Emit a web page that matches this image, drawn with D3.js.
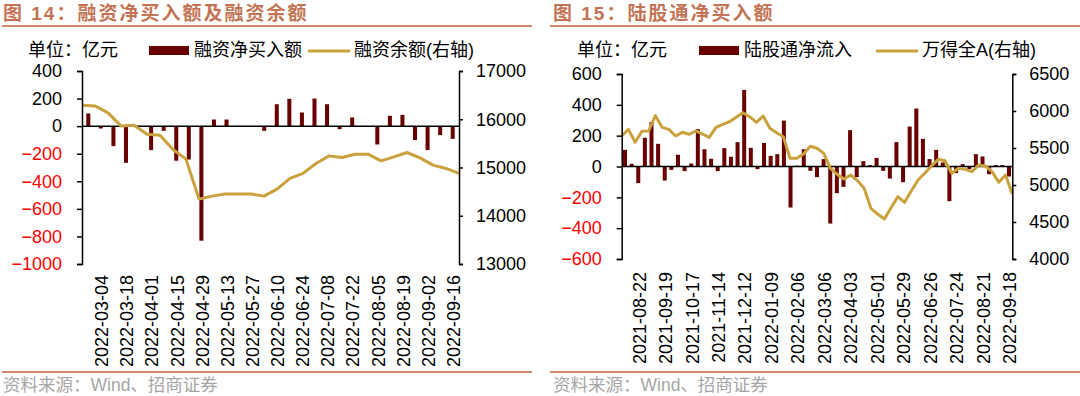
<!DOCTYPE html>
<html>
<head>
<meta charset="utf-8">
<script src="https://cdn.jsdelivr.net/npm/d3@7"></script>
<style>
  body { margin: 0; background: #fff; }
  text { font-family: "Liberation Sans", "Noto Sans CJK SC", sans-serif; }
</style>
</head>
<body>
<div id="chart"></div>
<script>
var svgWidth = 1080;
var svgHeight = 396;

// ---- data: 图14 融资 (weekly, Fridays 2022-02-25 .. 2022-09-16)
var marginDates = d3.timeFriday.range(new Date(2022, 1, 25), new Date(2022, 8, 17)).map(d3.timeFormat("%Y-%m-%d"));
var marginNetBuy = [92, -17, -145, -266, 2, -174, -34, -251, -242, -831, 48, 48, 2, -2, -34,
  159, 198, 99, 200, 159, -22, 63, 2, -133, 75, 82, -101, -174, -65, -92];
var marginBalance = [16290, 16276, 16131, 15862, 15876, 15690, 15670, 15373, 15173, 14345,
  14407, 14449, 14449, 14449, 14407, 14553, 14773, 14877, 15084, 15241,
  15208, 15276, 15276, 15138, 15220, 15311, 15200, 15049, 14980, 14877];
var marginLeftTicks = [400, 200, 0, -200, -400, -600, -800, -1000];
var marginRightTicks = [17000, 16000, 15000, 14000, 13000];

// ---- data: 图15 陆股通 (weekly, Sundays 2021-08-08 .. 2022-09-18)
var northDates = d3.timeSunday.range(new Date(2021, 7, 8), new Date(2022, 8, 19)).map(d3.timeFormat("%Y-%m-%d"));
var northFlow = [108, 17, -108, 186, 288, 147, -91, -22, 76, -30,
  19, 242, 112, 50, -30, 119, 63, 158, 497, 121,
  -17, 153, 69, 80, 298, -266, 5, 112, -28, -69,
  48, -370, -173, -132, 236, -69, 35, 9, 56, -28,
  -78, 158, -102, 259, 376, 179, 48, 108, 26, -225,
  -43, 15, -17, 80, 65, -50, 9, 9, -65];
var windA = [5662, 5752, 5577, 5726, 5730, 5937, 5779, 5752, 5662, 5712,
  5685, 5730, 5689, 5644, 5779, 5820, 5856, 5915, 5977, 5923,
  5847, 5932, 5766, 5707, 5653, 5361, 5361, 5419, 5523, 5496,
  5428, 5226, 5145, 5081, 5135, 5059, 4955, 4685, 4608, 4541,
  4694, 4842, 4766, 4919, 5068, 5158, 5257, 5347, 5329, 5158,
  5226, 5212, 5180, 5270, 5257, 5180, 5036, 5135, 4880];
var northLeftTicks = [600, 400, 200, 0, -200, -400, -600];
var northRightTicks = [6500, 6000, 5500, 5000, 4500, 4000];

var barColor = "#680000";
var lineColor = "#c9a13d";
var titleColor = "#c47455";
var ruleColor = "#d4876a";

var svg = d3.select("#chart")
  .append("svg")
  .attr("width", svgWidth)
  .attr("height", svgHeight);

function drawPanel(cfg) {
  var g = svg.append("g");

  // title + rules
  g.append("text")
    .attr("x", cfg.titleX)
    .attr("y", 20)
    .attr("fill", titleColor)
    .style("font-size", "19px")
    .style("font-weight", "bold")
    .style("letter-spacing", "2px")
    .text(cfg.title);
  g.append("line")
    .attr("x1", cfg.ruleX1).attr("x2", cfg.ruleX2)
    .attr("y1", 26).attr("y2", 26)
    .attr("stroke", ruleColor).attr("stroke-width", 2);
  g.append("line")
    .attr("x1", cfg.ruleX1).attr("x2", cfg.ruleX2)
    .attr("y1", 372).attr("y2", 372)
    .attr("stroke", ruleColor).attr("stroke-width", 2);
  g.append("text")
    .attr("x", cfg.titleX)
    .attr("y", 385)
    .attr("dy", "0.35em")
    .attr("fill", "#a6a6a6")
    .style("font-size", "17.5px")
    .text("资料来源：Wind、招商证券");

  // legend
  var lg = g.append("g").style("font-size", "18px");
  lg.append("text").attr("x", cfg.legend[0]).attr("y", 50).attr("dy", "0.35em").text("单位：亿元");
  lg.append("rect").attr("x", cfg.legend[1]).attr("y", 46).attr("width", 40).attr("height", 9).attr("fill", barColor);
  lg.append("text").attr("x", cfg.legend[1] + 45).attr("y", 50).attr("dy", "0.35em").text(cfg.barName);
  lg.append("line").attr("x1", cfg.legend[2]).attr("x2", cfg.legend[2] + 42)
    .attr("y1", 51).attr("y2", 51).attr("stroke", lineColor).attr("stroke-width", 3);
  lg.append("text").attr("x", cfg.legend[2] + 46).attr("y", 50).attr("dy", "0.35em").text(cfg.lineName);

  // scales
  var xBand = d3.scaleBand().domain(cfg.dates).range([cfg.x0, cfg.x1]);
  var xLine = d3.scalePoint().domain(cfg.dates).range([cfg.x0, cfg.x1]);
  var yLeft = d3.scaleLinear().domain(cfg.leftDomain).range([cfg.y1, cfg.y0]);
  var yRight = d3.scaleLinear().domain(cfg.rightDomain).range([cfg.y1, cfg.y0]);

  // bars
  var barW = 4;
  g.append("g").selectAll("rect")
    .data(cfg.bars)
    .enter()
    .append("rect")
    .attr("x", (d, i) => xBand(cfg.dates[i]) + xBand.bandwidth() / 2 - barW / 2)
    .attr("y", d => yLeft(Math.max(0, d)))
    .attr("width", barW)
    .attr("height", d => Math.abs(yLeft(d) - yLeft(0)))
    .attr("fill", barColor);

  // zero line
  g.append("line")
    .attr("x1", cfg.x0).attr("x2", cfg.x1)
    .attr("y1", yLeft(0)).attr("y2", yLeft(0))
    .attr("stroke", "#000").attr("stroke-width", 1.5);

  // right-axis line series
  var line = d3.line()
    .x((d, i) => xLine(cfg.dates[i]))
    .y(d => yRight(d));
  g.append("path")
    .datum(cfg.line)
    .attr("d", line)
    .attr("fill", "none")
    .attr("stroke", lineColor)
    .attr("stroke-width", 3)
    .attr("stroke-linejoin", "round");

  // axes
  var fmt = d3.format("d");
  var leftAxis = g.append("g")
    .attr("transform", `translate(${cfg.x0},0)`)
    .call(d3.axisLeft(yLeft).tickValues(cfg.leftTicks).tickFormat(fmt)
      .tickSize(5).tickSizeOuter(5).tickPadding(15));
  var rightAxis = g.append("g")
    .attr("transform", `translate(${cfg.x1},0)`)
    .call(d3.axisRight(yRight).tickValues(cfg.rightTicks).tickFormat(fmt)
      .tickSize(4).tickSizeOuter(4).tickPadding(13));
  [leftAxis, rightAxis].forEach(function(ax) {
    ax.selectAll("path, line").attr("stroke", "#000").attr("stroke-width", 1.5);
    ax.selectAll("text")
      .style("font-size", "18px")
      .style("font-family", "Liberation Sans, sans-serif");
  });
  leftAxis.selectAll("text").attr("fill", d => d < 0 ? "#ff0000" : "#000");
  rightAxis.selectAll("text").attr("fill", "#000");

  // rotated date labels
  g.append("g").selectAll("text")
    .data(cfg.dates.filter((d, i) => i % cfg.labelEvery === cfg.labelStart))
    .enter()
    .append("text")
    .attr("transform", d => `translate(${xBand(d) + xBand.bandwidth() / 2 + 1},${cfg.labelY}) rotate(-90)`)
    .attr("dy", "0.35em")
    .attr("text-anchor", "end")
    .style("font-size", "18px")
    .text(d => d);
}

drawPanel({
  title: "图 14：融资净买入额及融资余额",
  titleX: 3, ruleX1: 2, ruleX2: 532,
  legend: [28, 149, 308],
  barName: "融资净买入额", lineName: "融资余额(右轴)",
  dates: marginDates, bars: marginNetBuy, line: marginBalance,
  x0: 82, x1: 459, y0: 71, y1: 264,
  leftDomain: [-1000, 400], rightDomain: [13000, 17000],
  leftTicks: marginLeftTicks, rightTicks: marginRightTicks,
  labelEvery: 2, labelStart: 1, labelY: 275
});

drawPanel({
  title: "图 15：陆股通净买入额",
  titleX: 553, ruleX1: 550, ruleX2: 1080,
  legend: [577, 699, 876],
  barName: "陆股通净流入", lineName: "万得全A(右轴)",
  dates: northDates, bars: northFlow, line: windA,
  x0: 621.7, x1: 1012.3, y0: 74, y1: 259,
  leftDomain: [-600, 600], rightDomain: [4000, 6500],
  leftTicks: northLeftTicks, rightTicks: northRightTicks,
  labelEvery: 4, labelStart: 2, labelY: 272
});
</script>
</body>
</html>
